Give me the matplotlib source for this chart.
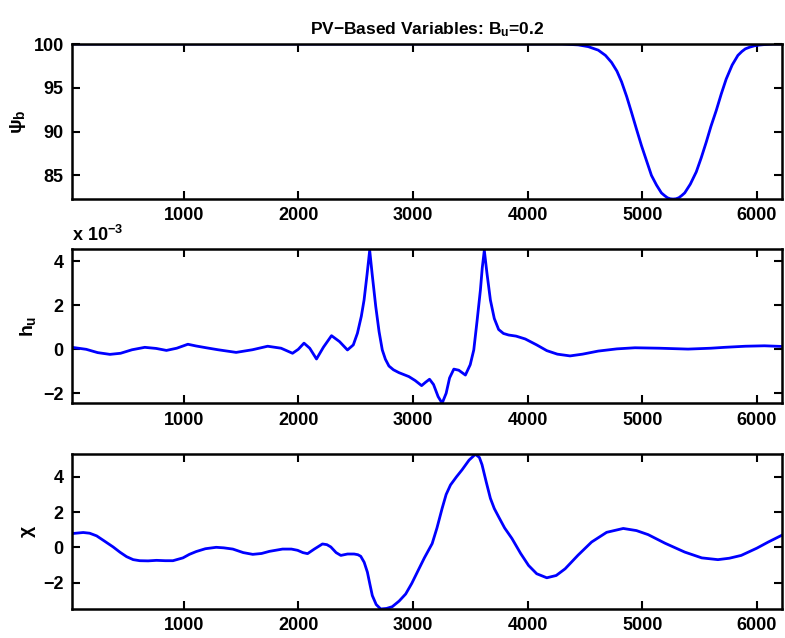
import matplotlib
matplotlib.use('Agg')
import matplotlib.pyplot as plt
from matplotlib.ticker import FuncFormatter
import numpy as np

plt.rcParams['font.family'] = ['Liberation Sans', 'DejaVu Sans']
plt.rcParams['font.weight'] = 'bold'
plt.rcParams['mathtext.fontset'] = 'custom'
plt.rcParams['mathtext.rm'] = 'Liberation Sans:bold'
plt.rcParams['mathtext.it'] = 'Liberation Sans:bold'
plt.rcParams['mathtext.bf'] = 'Liberation Sans:bold'

# psi_b (top panel)
psi_x = [26, 4300, 4443, 4530, 4617, 4680, 4733, 4780, 4820, 4865, 4907, 4950,
         4994, 5040, 5081, 5125, 5168, 5195, 5220, 5245, 5270, 5295, 5320, 5345,
         5371, 5420, 5472, 5515, 5559, 5600, 5646, 5690, 5733, 5785, 5835, 5870,
         5900, 5940, 5980, 6020, 6060, 6150, 6220]
psi_b = [100, 100, 99.9, 99.7, 99.3, 98.7, 97.9, 96.9, 95.7, 94.0, 92.2, 90.3,
         88.4, 86.6, 85.0, 83.9, 83.0, 82.7, 82.45, 82.33, 82.3, 82.33, 82.45, 82.7,
         83.0, 84.0, 85.4, 87.0, 88.8, 90.6, 92.4, 94.3, 96.0, 97.6, 98.7, 99.15,
         99.45, 99.65, 99.8, 99.88, 99.93, 100, 100]

# h_u (middle panel), values in units of 1e-3
hu_x = [26, 150, 250, 357, 450, 550, 661, 760, 850, 940, 1037, 1110, 1197, 1300,
        1458, 1600, 1733, 1850, 1950, 2000, 2050, 2100, 2159, 2220, 2290, 2360,
        2429, 2480, 2516, 2550, 2574, 2600, 2623, 2645, 2676, 2705, 2733, 2760,
        2791, 2830, 2878, 2965, 3020, 3076, 3110, 3145, 3180, 3220, 3255, 3290,
        3320, 3357, 3400, 3458, 3500, 3531, 3560, 3589, 3605, 3623, 3645, 3676,
        3710, 3748, 3790, 3835, 3900, 3980, 4080, 4168, 4260, 4371, 4480, 4617,
        4780, 4937, 5150, 5400, 5600, 5719, 5900, 6067, 6220]
hu_e3 = [0.09, 0.0, -0.15, -0.23, -0.18, -0.02, 0.09, 0.04, -0.05, 0.05, 0.23, 0.15,
         0.07, -0.02, -0.14, -0.02, 0.14, 0.05, -0.18, 0.0, 0.28, 0.05, -0.44, 0.1,
         0.62, 0.35, -0.03, 0.2, 0.73, 1.5, 2.24, 3.4, 4.5, 3.4, 1.94, 0.8, -0.03,
         -0.45, -0.76, -0.93, -1.06, -1.24, -1.42, -1.65, -1.5, -1.36, -1.6, -2.15,
         -2.45, -2.0, -1.3, -0.9, -0.95, -1.17, -0.7, -0.03, 1.3, 2.7, 3.7, 4.5, 3.5,
         2.24, 1.4, 0.9, 0.72, 0.65, 0.6, 0.47, 0.2, -0.06, -0.22, -0.3, -0.22,
         -0.08, 0.02, 0.07, 0.05, 0.01, 0.05, 0.09, 0.14, 0.16, 0.13]

# chi (bottom panel)
chi_x = [26, 124, 180, 241, 310, 385, 445, 502, 560, 617, 690, 763, 840, 907, 994,
         1050, 1110, 1190, 1284, 1350, 1429, 1520, 1603, 1680, 1748, 1863, 1940,
         1994, 2040, 2081, 2140, 2211, 2250, 2284, 2330, 2371, 2430, 2487, 2520,
         2545, 2575, 2603, 2625, 2646, 2680, 2719, 2770, 2820, 2880, 2937, 2990,
         3046, 3100, 3168, 3210, 3255, 3290, 3328, 3380, 3429, 3490, 3545, 3580,
         3603, 3640, 3676, 3710, 3748, 3800, 3864, 3940, 4009, 4080, 4168, 4250,
         4328, 4440, 4559, 4690, 4835, 4950, 5052, 5200, 5371, 5520, 5661, 5760,
         5864, 6000, 6100, 6220]
chi = [0.78, 0.84, 0.8, 0.65, 0.35, 0.02, -0.28, -0.53, -0.7, -0.76, -0.77, -0.74,
       -0.76, -0.76, -0.6, -0.4, -0.24, -0.08, 0.0, -0.03, -0.1, -0.3, -0.4, -0.35,
       -0.23, -0.1, -0.1, -0.17, -0.3, -0.36, -0.1, 0.19, 0.15, 0.02, -0.3, -0.46,
       -0.38, -0.38, -0.42, -0.51, -0.85, -1.41, -2.1, -2.74, -3.25, -3.5, -3.47,
       -3.37, -3.05, -2.65, -2.05, -1.31, -0.6, 0.21, 1.1, 2.21, 3.0, 3.54, 4.0,
       4.4, 4.95, 5.28, 5.1, 4.69, 3.7, 2.78, 2.2, 1.73, 1.1, 0.5, -0.35, -1.03,
       -1.5, -1.73, -1.6, -1.22, -0.45, 0.3, 0.85, 1.07, 0.95, 0.72, 0.23, -0.27,
       -0.6, -0.7, -0.62, -0.46, -0.05, 0.3, 0.69]

x_ticks = [1000, 2000, 3000, 4000, 5000, 6000]
x_lim = (26, 6220)

fig = plt.figure(figsize=(7.85, 6.38), dpi=100)
ax1 = fig.add_axes([0.0917, 0.688, 0.9045, 0.243])
ax2 = fig.add_axes([0.0917, 0.368, 0.9045, 0.2414])
ax3 = fig.add_axes([0.0917, 0.0455, 0.9045, 0.243])

ax1.plot(psi_x, psi_b, color='blue', lw=2)
ax2.plot(hu_x, np.array(hu_e3) * 1e-3, color='blue', lw=2)
ax3.plot(chi_x, chi, color='blue', lw=2)

ax1.set_ylim(82.3, 100)
ax1.set_yticks([85, 90, 95, 100])
ax2.set_ylim(-2.45e-3, 4.55e-3)
ax2.set_yticks([-2e-3, 0, 2e-3, 4e-3])
ax2.yaxis.set_major_formatter(FuncFormatter(lambda v, p: f'{v * 1e3:g}'.replace('-', '\u2212')))
ax3.set_ylim(-3.5, 5.3)
ax3.set_yticks([-2, 0, 2, 4])

for ax in (ax1, ax2, ax3):
    ax.set_xlim(*x_lim)
    ax.set_xticks(x_ticks)
    ax.tick_params(direction='in', length=6, width=1.5, top=True, right=True,
                   labelsize=13, pad=6)
    for s in ax.spines.values():
        s.set_linewidth(1.8)
    for lab in ax.get_xticklabels() + ax.get_yticklabels():
        lab.set_fontweight('bold')

ax1.set_ylabel(r'$\psi_b$', fontsize=14)
ax2.set_ylabel(r'$h_u$', fontsize=14)
ax3.set_ylabel(r'$\chi$', fontsize=14)
ax1.set_title(r'PV$-$Based Variables: B$_u$=0.2', fontsize=12.5, fontweight='bold', pad=7)
ax2.text(0, 1.025, r'x 10$^{-3}$', transform=ax2.transAxes, ha='left', va='bottom',
         fontsize=13, fontweight='bold')

fig.savefig('out.png', dpi=100)
